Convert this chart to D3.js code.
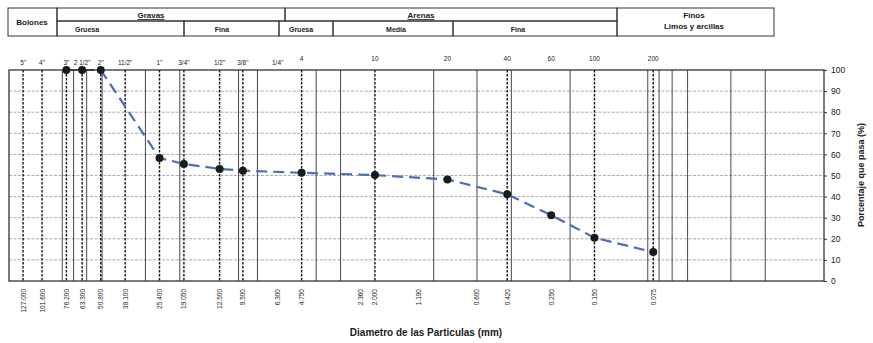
<!DOCTYPE html>
<html><head><meta charset="utf-8">
<script src="https://cdn.jsdelivr.net/npm/d3@7"></script>
<style>body{margin:0;background:#fff}svg{display:block}text{font-family:"Liberation Sans",Arial,sans-serif;fill:#1a1a1a}</style>
</head><body>
<script>
// ---- data ----
const sieveLabels = ['5"','4"','3"','2 1/2"','2"','11/2"','1"','3/4"','1/2"','3/8"','1/4"','4','10','20','40','60','100','200'];
const sieveSizes  = [127, 101.6, 76.2, 63.3, 50.8, 38.1, 25.4, 19.05, 12.5, 9.5, 6.3, 4.75, 2.0, 0.85, 0.42, 0.25, 0.15, 0.075];
const bottomLabels = ["127.000","101.600","76.200","63.300","50.800","38.100","25.400","19.050","12.500","9.500","6.300","4.750","2.360","2.000","1.190","0.600","0.420","0.250","0.150","0.075"];
const dashedLines = [127, 101.6, 76.2, 63.3, 50.8, 38.1, 25.4, 19.05, 12.5, 9.5, 4.75, 2.0, 0.42, 0.15, 0.075];
const solidLines  = [80, 70, 60, 50, 30, 20, 10, 8, 4, 3, 1, 0.6, 0.4, 0.2, 0.08, 0.07, 0.06, 0.05, 0.03, 0.02];
const diameters = [76.2, 63.3, 50.8, 25.4, 19.05, 12.5, 9.5, 4.75, 2.0, 0.85, 0.42, 0.25, 0.15, 0.075];
const passing   = [100, 100, 100, 58.3, 55.5, 53.1, 52.3, 51.3, 50.2, 48.1, 41.1, 31.2, 20.5, 13.7];
const yTicks = [0,10,20,30,40,50,60,70,80,90,100];

// header table layout
const headerTop = [{t:"Gravas", x0:57, x1:285, tx:151}, {t:"Arenas", x0:285, x1:617, tx:421}];
const headerBottom = [{t:"Gruesa", x0:57, x1:184, tx:87}, {t:"Fina", x0:184, x1:279, tx:222},
  {t:"Gruesa", x0:279, x1:333, tx:301}, {t:"Media", x0:333, x1:453, tx:396}, {t:"Fina", x0:453, x1:617, tx:518}];

const W = 873, H = 343;
const svg = d3.select("body").append("svg").attr("width", W).attr("height", H);

const x = d3.scaleLog().domain([150, 0.01]).range([9, 824]);
const y = d3.scaleLinear().domain([0, 100]).range([281, 70]);

// header table
const hT = 8, hM = 21, hB = 36;
const hg = svg.append("g").attr("stroke", "#333").attr("stroke-width", 1).attr("fill", "none");
hg.append("rect").attr("x", 8).attr("y", hT).attr("width", 49).attr("height", hB - hT);
hg.append("rect").attr("x", 617).attr("y", hT).attr("width", 157).attr("height", hB - hT);
headerTop.forEach(d => hg.append("rect").attr("x", d.x0).attr("y", hT).attr("width", d.x1 - d.x0).attr("height", hM - hT));
headerBottom.forEach(d => hg.append("rect").attr("x", d.x0).attr("y", hM).attr("width", d.x1 - d.x0).attr("height", hB - hM));
svg.append("text").attr("x", 32).attr("y", 25).attr("text-anchor", "middle").attr("font-size", 8).attr("font-weight", "bold").text("Bolones");
headerTop.forEach(d => svg.append("text").attr("x", d.tx).attr("y", 18).attr("text-anchor", "middle")
  .attr("font-size", 8).attr("font-weight", "bold").attr("text-decoration", "underline").text(d.t));
headerBottom.forEach(d => svg.append("text").attr("x", d.tx).attr("y", 32).attr("text-anchor", "middle")
  .attr("font-size", 7).attr("font-weight", "bold").text(d.t));
svg.append("text").attr("x", 694).attr("y", 18).attr("text-anchor", "middle").attr("font-size", 8).attr("font-weight", "bold").text("Finos");
svg.append("text").attr("x", 694).attr("y", 29).attr("text-anchor", "middle").attr("font-size", 8).attr("font-weight", "bold").text("Limos y arcillas");

// horizontal grid
svg.append("g").selectAll("line").data(yTicks.filter(v => v > 0 && v < 100)).join("line")
  .attr("x1", x(150)).attr("x2", x(0.01)).attr("y1", d => y(d)).attr("y2", d => y(d))
  .attr("stroke", "#888").attr("stroke-width", 0.7).attr("stroke-dasharray", "3,1.5");

// solid vertical grid
svg.append("g").selectAll("line").data(solidLines).join("line")
  .attr("x1", d => x(d)).attr("x2", d => x(d)).attr("y1", y(100)).attr("y2", y(0))
  .attr("stroke", "#333").attr("stroke-width", 0.9);

// dashed sieve lines
svg.append("g").selectAll("line").data(dashedLines).join("line")
  .attr("x1", d => x(d)).attr("x2", d => x(d)).attr("y1", y(100)).attr("y2", y(0))
  .attr("stroke", "#111").attr("stroke-width", 1.4).attr("stroke-dasharray", "2.5,1.5");

// data line
const pts = diameters.map((d, i) => [x(d), y(passing[i])]);
svg.append("path").attr("d", d3.line()(pts))
  .attr("fill", "none").attr("stroke", "#4a6db5").attr("stroke-width", 2.2).attr("stroke-dasharray", "11,6");

// frame
svg.append("rect").attr("x", x(150)).attr("y", y(100)).attr("width", x(0.01) - x(150)).attr("height", y(0) - y(100))
  .attr("fill", "none").attr("stroke", "#222").attr("stroke-width", 1.2);

// points
svg.append("g").selectAll("circle").data(pts).join("circle")
  .attr("cx", d => d[0]).attr("cy", d => d[1]).attr("r", 4).attr("fill", "#1a1a1a");

// top sieve labels
svg.append("g").selectAll("text").data(sieveSizes).join("text")
  .attr("x", d => x(d)).attr("y", (d, i) => sieveLabels[i].includes('"') ? 65 : 61)
  .attr("text-anchor", "middle").attr("font-size", 6.5).text((d, i) => sieveLabels[i]);

// bottom labels
svg.append("g").selectAll("text").data(bottomLabels).join("text")
  .attr("transform", d => `translate(${x(+d) + 2.5},289) rotate(-90)`)
  .attr("text-anchor", "end").attr("font-size", 6.5).text(d => d);

// right axis
const ra = d3.axisRight(y).tickValues(yTicks).tickSize(3).tickPadding(4);
const rg = svg.append("g").attr("transform", `translate(${x(0.01)},0)`).call(ra);
rg.select(".domain").remove();
rg.selectAll("line").attr("stroke", "#333");
rg.selectAll("text").attr("font-size", 8.5).attr("font-family", "Liberation Sans, Arial, sans-serif").attr("fill", "#1a1a1a");

svg.append("text").attr("transform", `translate(864,175) rotate(-90)`).attr("text-anchor", "middle")
  .attr("font-size", 9).attr("font-weight", "bold").text("Porcentaje que pasa (%)");
svg.append("text").attr("x", 426).attr("y", 336).attr("text-anchor", "middle")
  .attr("font-size", 10).attr("font-weight", "bold").text("Diametro de las Particulas (mm)");
</script>
</body></html>
